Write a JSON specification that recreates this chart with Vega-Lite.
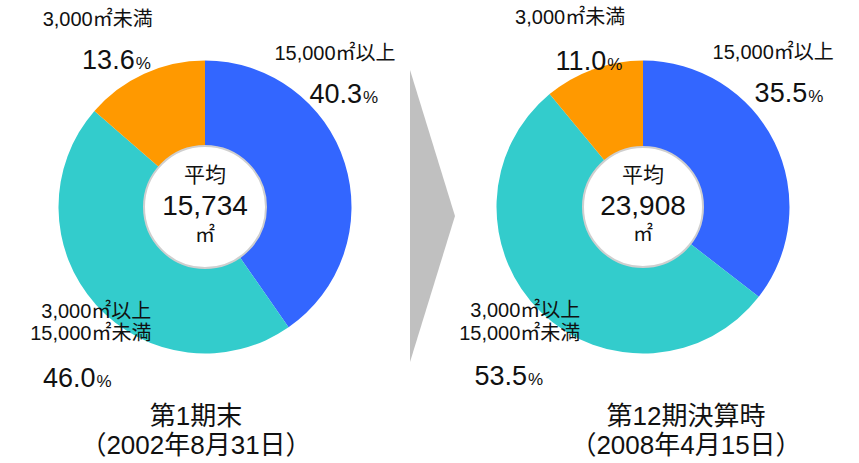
{
  "$schema": "https://vega.github.io/schema/vega-lite/v6.json",
  "background": "white",
  "padding": 0,
  "spacing": 0,
  "bounds": "flush",
  "config": {"view": {"stroke": null}, "font": "Liberation Sans, Noto Sans CJK JP"},
  "datasets": {
    "slices": [
      {"period": "第1期末", "size": "15,000㎡以上", "share": 40.3},
      {"period": "第1期末", "size": "3,000㎡以上 15,000㎡未満", "share": 46.0},
      {"period": "第1期末", "size": "3,000㎡未満", "share": 13.6},
      {"period": "第12期決算時", "size": "15,000㎡以上", "share": 35.5},
      {"period": "第12期決算時", "size": "3,000㎡以上 15,000㎡未満", "share": 53.5},
      {"period": "第12期決算時", "size": "3,000㎡未満", "share": 11.0}
    ],
    "centers": [
      {"period": "第1期末", "average": "15,734"},
      {"period": "第12期決算時", "average": "23,908"}
    ],
    "arrow": [{"from": "第1期末", "to": "第12期決算時"}]
  },
  "hconcat": [
    {
      "width": 410,
      "height": 414,
      "title": {"text": ["第1期末", "（2002年8月31日）"], "orient": "bottom", "anchor": "middle", "offset": -10, "dx": -9, "fontSize": 26, "fontWeight": "normal", "lineHeight": 29, "color": "#111"},
      "layer": [
        {"data": {"name": "slices"}, "transform": [{"filter": "datum.period === '第1期末'"}],
         "mark": {"type": "arc", "outerRadius": 146.5},
         "encoding": {"theta": {"field": "share", "type": "quantitative", "stack": true}, "order": {"field": "size", "sort": "ascending"},
           "color": {"field": "size", "type": "nominal", "scale": {"domain": ["15,000㎡以上", "3,000㎡以上 15,000㎡未満", "3,000㎡未満"], "range": ["#3366FF", "#33CCCC", "#FF9900"]}, "legend": null}}},
        {"data": {"name": "centers"}, "transform": [{"filter": "datum.period === '第1期末'"}],
         "mark": {"type": "point", "shape": "circle", "size": 14884, "filled": true, "fill": "white", "stroke": "#cfcfcf", "strokeWidth": 2, "opacity": 1}, "encoding": {}},
        {"data": {"name": "centers"}, "transform": [{"filter": "datum.period === '第1期末'"}],
         "mark": {"type": "text", "fontSize": 21, "dy": -31, "color": "#111"}, "encoding": {"text": {"value": "平均"}}},
        {"data": {"name": "centers"}, "transform": [{"filter": "datum.period === '第1期末'"}],
         "mark": {"type": "text", "fontSize": 28, "dy": 0, "color": "#111"}, "encoding": {"text": {"field": "average"}}},
        {"data": {"name": "centers"}, "transform": [{"filter": "datum.period === '第1期末'"}],
         "mark": {"type": "text", "fontSize": 20, "dy": 29, "color": "#111"}, "encoding": {"text": {"value": "㎡"}}},

        {"data": {"name": "slices"}, "transform": [{"filter": "datum.period === '第1期末'"}],
         "mark": {"type": "text", "radius": 178, "thetaOffset": -0.380, "align": "right", "dx": 19, "baseline": "middle", "color": "#111"},
         "encoding": {"theta": {"field": "share", "type": "quantitative", "stack": true}, "order": {"field": "size", "sort": "ascending"}, "detail": {"field": "size"},
           "size": {"condition": {"test": "datum.size === '15,000㎡以上'", "value": 27}, "value": 0},
           "text": {"condition": {"test": "datum.size === '15,000㎡以上'", "field": "share", "type": "quantitative", "format": ".1f"}, "value": ""}}},
        {"data": {"name": "slices"}, "transform": [{"filter": "datum.period === '第1期末'"}],
         "mark": {"type": "text", "radius": 178, "thetaOffset": -0.380, "align": "left", "dx": 20, "dy": 3, "baseline": "middle", "color": "#111"},
         "encoding": {"theta": {"field": "share", "type": "quantitative", "stack": true}, "order": {"field": "size", "sort": "ascending"}, "detail": {"field": "size"},
           "size": {"condition": {"test": "datum.size === '15,000㎡以上'", "value": 17}, "value": 0},
           "text": {"condition": {"test": "datum.size === '15,000㎡以上'", "value": "%"}, "value": ""}}},
        {"data": {"name": "slices"}, "transform": [{"filter": "datum.period === '第1期末'"}],
         "mark": {"type": "text", "radius": 178, "thetaOffset": -0.380, "align": "center", "dx": -8, "dy": -31, "baseline": "bottom", "color": "#111"},
         "encoding": {"theta": {"field": "share", "type": "quantitative", "stack": true}, "order": {"field": "size", "sort": "ascending"}, "detail": {"field": "size"},
           "size": {"condition": {"test": "datum.size === '15,000㎡以上'", "value": 20}, "value": 0},
           "text": {"condition": {"test": "datum.size === '15,000㎡以上'", "field": "size"}, "value": ""}}},

        {"data": {"name": "slices"}, "transform": [{"filter": "datum.period === '第1期末'"}],
         "mark": {"type": "text", "radius": 171, "thetaOffset": -0.122, "align": "right", "dx": 19, "baseline": "middle", "color": "#111"},
         "encoding": {"theta": {"field": "share", "type": "quantitative", "stack": true}, "order": {"field": "size", "sort": "ascending"}, "detail": {"field": "size"},
           "size": {"condition": {"test": "datum.size === '3,000㎡未満'", "value": 27}, "value": 0},
           "text": {"condition": {"test": "datum.size === '3,000㎡未満'", "field": "share", "type": "quantitative", "format": ".1f"}, "value": ""}}},
        {"data": {"name": "slices"}, "transform": [{"filter": "datum.period === '第1期末'"}],
         "mark": {"type": "text", "radius": 171, "thetaOffset": -0.122, "align": "left", "dx": 20, "dy": 3, "baseline": "middle", "color": "#111"},
         "encoding": {"theta": {"field": "share", "type": "quantitative", "stack": true}, "order": {"field": "size", "sort": "ascending"}, "detail": {"field": "size"},
           "size": {"condition": {"test": "datum.size === '3,000㎡未満'", "value": 17}, "value": 0},
           "text": {"condition": {"test": "datum.size === '3,000㎡未満'", "value": "%"}, "value": ""}}},
        {"data": {"name": "slices"}, "transform": [{"filter": "datum.period === '第1期末'"}],
         "mark": {"type": "text", "radius": 171, "thetaOffset": -0.122, "align": "center", "dx": -18, "dy": -31, "baseline": "bottom", "color": "#111"},
         "encoding": {"theta": {"field": "share", "type": "quantitative", "stack": true}, "order": {"field": "size", "sort": "ascending"}, "detail": {"field": "size"},
           "size": {"condition": {"test": "datum.size === '3,000㎡未満'", "value": 20}, "value": 0},
           "text": {"condition": {"test": "datum.size === '3,000㎡未満'", "field": "size"}, "value": ""}}},

        {"data": {"name": "slices"}, "transform": [{"filter": "datum.period === '第1期末'"}],
         "mark": {"type": "text", "radius": 215, "thetaOffset": -0.199, "align": "right", "dx": 19, "baseline": "middle", "color": "#111"},
         "encoding": {"theta": {"field": "share", "type": "quantitative", "stack": true}, "order": {"field": "size", "sort": "ascending"}, "detail": {"field": "size"},
           "size": {"condition": {"test": "datum.size === '3,000㎡以上 15,000㎡未満'", "value": 27}, "value": 0},
           "text": {"condition": {"test": "datum.size === '3,000㎡以上 15,000㎡未満'", "field": "share", "type": "quantitative", "format": ".1f"}, "value": ""}}},
        {"data": {"name": "slices"}, "transform": [{"filter": "datum.period === '第1期末'"}],
         "mark": {"type": "text", "radius": 215, "thetaOffset": -0.199, "align": "left", "dx": 20, "dy": 3, "baseline": "middle", "color": "#111"},
         "encoding": {"theta": {"field": "share", "type": "quantitative", "stack": true}, "order": {"field": "size", "sort": "ascending"}, "detail": {"field": "size"},
           "size": {"condition": {"test": "datum.size === '3,000㎡以上 15,000㎡未満'", "value": 17}, "value": 0},
           "text": {"condition": {"test": "datum.size === '3,000㎡以上 15,000㎡未満'", "value": "%"}, "value": ""}}},
        {"data": {"name": "slices"}, "transform": [{"filter": "datum.period === '第1期末'"}],
         "mark": {"type": "text", "radius": 165, "thetaOffset": -0.199, "align": "right", "dx": 45, "dy": -17, "baseline": "bottom", "lineBreak": " ", "lineHeight": 22, "color": "#111"},
         "encoding": {"theta": {"field": "share", "type": "quantitative", "stack": true}, "order": {"field": "size", "sort": "ascending"}, "detail": {"field": "size"},
           "size": {"condition": {"test": "datum.size === '3,000㎡以上 15,000㎡未満'", "value": 20}, "value": 0},
           "text": {"condition": {"test": "datum.size === '3,000㎡以上 15,000㎡未満'", "field": "size"}, "value": ""}}}
      ]
    },
    {
      "width": 45,
      "height": 432,
      "data": {"name": "arrow"},
      "mark": {"type": "point", "shape": "M-0.154,-1L0.154,0L-0.154,1Z", "size": 85264, "filled": true, "fill": "#c0c0c0", "opacity": 1, "strokeWidth": 0},
      "encoding": {}
    },
    {
      "width": 376,
      "height": 414,
      "title": {"text": ["第12期決算時", "（2008年4月15日）"], "orient": "bottom", "anchor": "middle", "offset": -10, "dx": 43, "fontSize": 26, "fontWeight": "normal", "lineHeight": 29, "color": "#111"},
      "layer": [
        {"data": {"name": "slices"}, "transform": [{"filter": "datum.period === '第12期決算時'"}],
         "mark": {"type": "arc", "outerRadius": 146.5},
         "encoding": {"theta": {"field": "share", "type": "quantitative", "stack": true}, "order": {"field": "size", "sort": "ascending"},
           "color": {"field": "size", "type": "nominal", "scale": {"domain": ["15,000㎡以上", "3,000㎡以上 15,000㎡未満", "3,000㎡未満"], "range": ["#3366FF", "#33CCCC", "#FF9900"]}, "legend": null}}},
        {"data": {"name": "centers"}, "transform": [{"filter": "datum.period === '第12期決算時'"}],
         "mark": {"type": "point", "shape": "circle", "size": 14400, "filled": true, "fill": "white", "stroke": "#cfcfcf", "strokeWidth": 2, "opacity": 1}, "encoding": {}},
        {"data": {"name": "centers"}, "transform": [{"filter": "datum.period === '第12期決算時'"}],
         "mark": {"type": "text", "fontSize": 21, "dy": -31, "color": "#111"}, "encoding": {"text": {"value": "平均"}}},
        {"data": {"name": "centers"}, "transform": [{"filter": "datum.period === '第12期決算時'"}],
         "mark": {"type": "text", "fontSize": 28, "dy": 0, "color": "#111"}, "encoding": {"text": {"field": "average"}}},
        {"data": {"name": "centers"}, "transform": [{"filter": "datum.period === '第12期決算時'"}],
         "mark": {"type": "text", "fontSize": 20, "dy": 28, "color": "#111"}, "encoding": {"text": {"value": "㎡"}}},

        {"data": {"name": "slices"}, "transform": [{"filter": "datum.period === '第12期決算時'"}],
         "mark": {"type": "text", "radius": 184, "thetaOffset": -0.206, "align": "right", "dx": 19, "baseline": "middle", "color": "#111"},
         "encoding": {"theta": {"field": "share", "type": "quantitative", "stack": true}, "order": {"field": "size", "sort": "ascending"}, "detail": {"field": "size"},
           "size": {"condition": {"test": "datum.size === '15,000㎡以上'", "value": 27}, "value": 0},
           "text": {"condition": {"test": "datum.size === '15,000㎡以上'", "field": "share", "type": "quantitative", "format": ".1f"}, "value": ""}}},
        {"data": {"name": "slices"}, "transform": [{"filter": "datum.period === '第12期決算時'"}],
         "mark": {"type": "text", "radius": 184, "thetaOffset": -0.206, "align": "left", "dx": 20, "dy": 3, "baseline": "middle", "color": "#111"},
         "encoding": {"theta": {"field": "share", "type": "quantitative", "stack": true}, "order": {"field": "size", "sort": "ascending"}, "detail": {"field": "size"},
           "size": {"condition": {"test": "datum.size === '15,000㎡以上'", "value": 17}, "value": 0},
           "text": {"condition": {"test": "datum.size === '15,000㎡以上'", "value": "%"}, "value": ""}}},
        {"data": {"name": "slices"}, "transform": [{"filter": "datum.period === '第12期決算時'"}],
         "mark": {"type": "text", "radius": 184, "thetaOffset": -0.206, "align": "center", "dx": -15, "dy": -31, "baseline": "bottom", "color": "#111"},
         "encoding": {"theta": {"field": "share", "type": "quantitative", "stack": true}, "order": {"field": "size", "sort": "ascending"}, "detail": {"field": "size"},
           "size": {"condition": {"test": "datum.size === '15,000㎡以上'", "value": 20}, "value": 0},
           "text": {"condition": {"test": "datum.size === '15,000㎡以上'", "field": "size"}, "value": ""}}},

        {"data": {"name": "slices"}, "transform": [{"filter": "datum.period === '第12期決算時'"}],
         "mark": {"type": "text", "radius": 155, "thetaOffset": -0.023, "align": "right", "dx": 19, "baseline": "middle", "color": "#111"},
         "encoding": {"theta": {"field": "share", "type": "quantitative", "stack": true}, "order": {"field": "size", "sort": "ascending"}, "detail": {"field": "size"},
           "size": {"condition": {"test": "datum.size === '3,000㎡未満'", "value": 27}, "value": 0},
           "text": {"condition": {"test": "datum.size === '3,000㎡未満'", "field": "share", "type": "quantitative", "format": ".1f"}, "value": ""}}},
        {"data": {"name": "slices"}, "transform": [{"filter": "datum.period === '第12期決算時'"}],
         "mark": {"type": "text", "radius": 155, "thetaOffset": -0.023, "align": "left", "dx": 20, "dy": 3, "baseline": "middle", "color": "#111"},
         "encoding": {"theta": {"field": "share", "type": "quantitative", "stack": true}, "order": {"field": "size", "sort": "ascending"}, "detail": {"field": "size"},
           "size": {"condition": {"test": "datum.size === '3,000㎡未満'", "value": 17}, "value": 0},
           "text": {"condition": {"test": "datum.size === '3,000㎡未満'", "value": "%"}, "value": ""}}},
        {"data": {"name": "slices"}, "transform": [{"filter": "datum.period === '第12期決算時'"}],
         "mark": {"type": "text", "radius": 155, "thetaOffset": -0.023, "align": "center", "dx": -17, "dy": -34, "baseline": "bottom", "color": "#111"},
         "encoding": {"theta": {"field": "share", "type": "quantitative", "stack": true}, "order": {"field": "size", "sort": "ascending"}, "detail": {"field": "size"},
           "size": {"condition": {"test": "datum.size === '3,000㎡未満'", "value": 20}, "value": 0},
           "text": {"condition": {"test": "datum.size === '3,000㎡未満'", "field": "size"}, "value": ""}}},

        {"data": {"name": "slices"}, "transform": [{"filter": "datum.period === '第12期決算時'"}],
         "mark": {"type": "text", "radius": 217, "thetaOffset": -0.098, "align": "right", "dx": 19, "baseline": "middle", "color": "#111"},
         "encoding": {"theta": {"field": "share", "type": "quantitative", "stack": true}, "order": {"field": "size", "sort": "ascending"}, "detail": {"field": "size"},
           "size": {"condition": {"test": "datum.size === '3,000㎡以上 15,000㎡未満'", "value": 27}, "value": 0},
           "text": {"condition": {"test": "datum.size === '3,000㎡以上 15,000㎡未満'", "field": "share", "type": "quantitative", "format": ".1f"}, "value": ""}}},
        {"data": {"name": "slices"}, "transform": [{"filter": "datum.period === '第12期決算時'"}],
         "mark": {"type": "text", "radius": 217, "thetaOffset": -0.098, "align": "left", "dx": 20, "dy": 3, "baseline": "middle", "color": "#111"},
         "encoding": {"theta": {"field": "share", "type": "quantitative", "stack": true}, "order": {"field": "size", "sort": "ascending"}, "detail": {"field": "size"},
           "size": {"condition": {"test": "datum.size === '3,000㎡以上 15,000㎡未満'", "value": 17}, "value": 0},
           "text": {"condition": {"test": "datum.size === '3,000㎡以上 15,000㎡未満'", "value": "%"}, "value": ""}}},
        {"data": {"name": "slices"}, "transform": [{"filter": "datum.period === '第12期決算時'"}],
         "mark": {"type": "text", "radius": 165, "thetaOffset": -0.098, "align": "right", "dx": 40, "dy": -15, "baseline": "bottom", "lineBreak": " ", "lineHeight": 23, "color": "#111"},
         "encoding": {"theta": {"field": "share", "type": "quantitative", "stack": true}, "order": {"field": "size", "sort": "ascending"}, "detail": {"field": "size"},
           "size": {"condition": {"test": "datum.size === '3,000㎡以上 15,000㎡未満'", "value": 20}, "value": 0},
           "text": {"condition": {"test": "datum.size === '3,000㎡以上 15,000㎡未満'", "field": "size"}, "value": ""}}}
      ]
    }
  ]
}
